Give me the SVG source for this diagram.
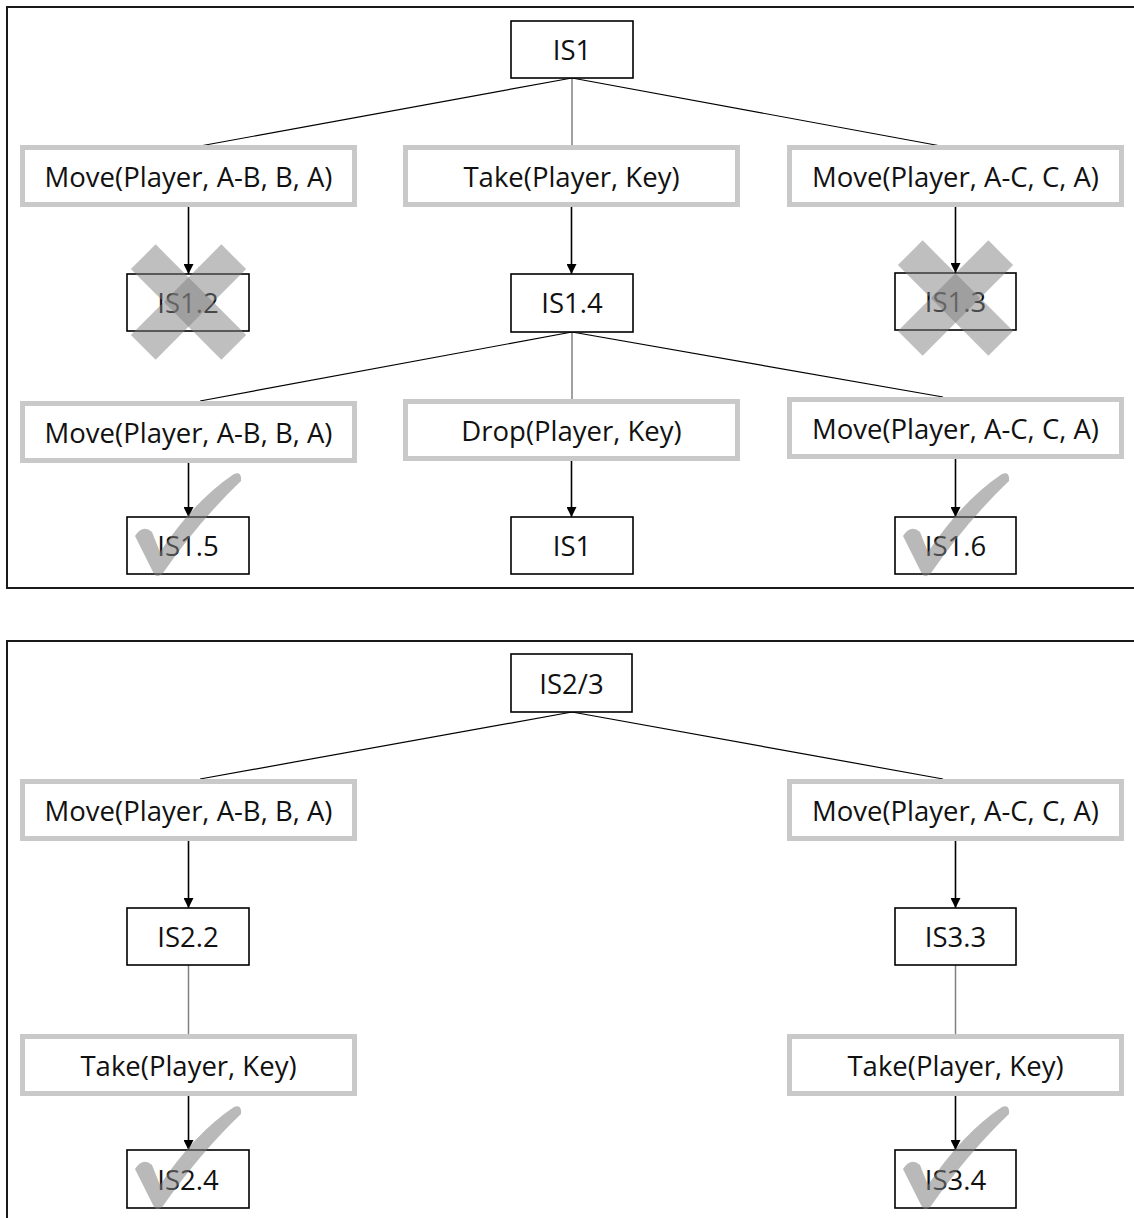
<svg xmlns="http://www.w3.org/2000/svg" width="1134" height="1218" viewBox="0 0 1134 1218">
  <style>
    .panel { fill: #ffffff; stroke: #1a1a1a; stroke-width: 2; }
    .state { fill: #ffffff; stroke: #000000; stroke-width: 1.6; }
    .action { fill: #ffffff; stroke: #c9c9c9; stroke-width: 5; }
    .label { font-family: "Open Sans", "Liberation Sans", Arial, sans-serif; font-size: 27.5px; fill: #111111; text-anchor: middle; }
    .fan { stroke: #000000; stroke-width: 1.2; fill: none; }
    .stem { stroke: #808080; stroke-width: 1.5; fill: none; }
    .arrow { stroke: #000000; stroke-width: 1.6; fill: none; marker-end: url(#head); }
    .cross { fill: #808080; fill-opacity: 0.5; }
    .tick { fill: #808080; fill-opacity: 0.55; }
  </style>
  <defs>
    <marker id="head" markerUnits="userSpaceOnUse" markerWidth="10" markerHeight="10" refX="10" refY="5" orient="auto">
      <path d="M0,0 L10,5 L0,10 Z" fill="#000000"/>
    </marker>
    <!-- rejected-state cross, centred on the origin -->
    <g id="cross-mark">
      <rect x="-64" y="-17.5" width="128" height="35" transform="rotate(45)"/>
      <rect x="-64" y="-17.5" width="128" height="35" transform="rotate(-45)"/>
    </g>
    <!-- accepted-state tick, origin at the top-left corner of the state box -->
    <path id="tick-mark" d="M 8,19 Q 16,7 25,15 L 33,35 Q 68,-17 107,-43 Q 115,-46 114,-36 Q 73,3 36,56 Q 30,63 26,55 Z"/>
  </defs>

  <!-- panels -->
  <rect class="panel" x="7" y="7" width="1140" height="581"/>
  <rect class="panel" x="7" y="641" width="1140" height="600"/>

  <!-- connectors -->
  <g id="connectors">
    <line class="fan" x1="572" y1="78" x2="200" y2="146"/>
    <line class="stem" x1="572" y1="78" x2="572" y2="145"/>
    <line class="fan" x1="572" y1="78" x2="941" y2="146"/>
    <line class="arrow" x1="188.5" y1="207" x2="188.5" y2="274"/>
    <line class="arrow" x1="571.5" y1="207" x2="571.5" y2="274"/>
    <line class="arrow" x1="955.5" y1="207" x2="955.5" y2="273"/>

    <line class="fan" x1="572" y1="332" x2="200" y2="401"/>
    <line class="stem" x1="572" y1="332" x2="572" y2="399"/>
    <line class="fan" x1="572" y1="332" x2="943" y2="397"/>
    <line class="arrow" x1="188.5" y1="463" x2="188.5" y2="517"/>
    <line class="arrow" x1="571.5" y1="461" x2="571.5" y2="517"/>
    <line class="arrow" x1="955.5" y1="459" x2="955.5" y2="517"/>

    <line class="fan" x1="572" y1="712" x2="200" y2="779"/>
    <line class="fan" x1="572" y1="712" x2="943" y2="779"/>
    <line class="arrow" x1="188.5" y1="841" x2="188.5" y2="908"/>
    <line class="arrow" x1="955.5" y1="841" x2="955.5" y2="908"/>
    <line class="stem" x1="188.5" y1="965" x2="188.5" y2="1034"/>
    <line class="stem" x1="955.5" y1="965" x2="955.5" y2="1034"/>
    <line class="arrow" x1="188.5" y1="1096" x2="188.5" y2="1150"/>
    <line class="arrow" x1="955.5" y1="1096" x2="955.5" y2="1150"/>
  </g>

  <!-- upper tree -->
  <g id="is1-root">
    <rect class="state" x="511" y="21" width="122" height="57"/>
    <text class="label" x="572" y="59.5">IS1</text>
  </g>
  <g id="move-ab-1">
    <rect class="action" x="22.5" y="147.5" width="332" height="57"/>
    <text class="label" x="188.5" y="186.5">Move(Player, A-B, B, A)</text>
  </g>
  <g id="take-1">
    <rect class="action" x="405.5" y="147.5" width="332" height="57"/>
    <text class="label" x="571.5" y="186.5">Take(Player, Key)</text>
  </g>
  <g id="move-ac-1">
    <rect class="action" x="789.5" y="147.5" width="332" height="57"/>
    <text class="label" x="955.5" y="186.5">Move(Player, A-C, C, A)</text>
  </g>
  <g id="is1-2">
    <rect class="state" x="127" y="274" width="122" height="57"/>
    <text class="label" x="188" y="312.5">IS1.2</text>
    <use href="#cross-mark" class="cross" x="188.5" y="302"/>
  </g>
  <g id="is1-4">
    <rect class="state" x="511" y="274" width="122" height="58"/>
    <text class="label" x="572" y="313">IS1.4</text>
  </g>
  <g id="is1-3">
    <rect class="state" x="895" y="273" width="121" height="57"/>
    <text class="label" x="955.5" y="311.5">IS1.3</text>
    <use href="#cross-mark" class="cross" x="955.5" y="298"/>
  </g>
  <g id="move-ab-2">
    <rect class="action" x="22.5" y="403.5" width="332" height="57"/>
    <text class="label" x="188.5" y="442.5">Move(Player, A-B, B, A)</text>
  </g>
  <g id="drop-1">
    <rect class="action" x="405.5" y="401.5" width="332" height="57"/>
    <text class="label" x="571.5" y="441">Drop(Player, Key)</text>
  </g>
  <g id="move-ac-2">
    <rect class="action" x="789.5" y="399.5" width="332" height="57"/>
    <text class="label" x="955.5" y="438.5">Move(Player, A-C, C, A)</text>
  </g>
  <g id="is1-5">
    <rect class="state" x="127" y="517" width="122" height="57"/>
    <text class="label" x="188" y="555.5">IS1.5</text>
    <use href="#tick-mark" class="tick" x="127" y="517"/>
  </g>
  <g id="is1-back">
    <rect class="state" x="511" y="517" width="122" height="57"/>
    <text class="label" x="572" y="555.5">IS1</text>
  </g>
  <g id="is1-6">
    <rect class="state" x="895" y="517" width="121" height="57"/>
    <text class="label" x="955.5" y="555.5">IS1.6</text>
    <use href="#tick-mark" class="tick" x="895" y="517"/>
  </g>

  <!-- lower tree -->
  <g id="is2-3">
    <rect class="state" x="511" y="654" width="121" height="58"/>
    <text class="label" x="571.5" y="693.5">IS2/3</text>
  </g>
  <g id="move-ab-3">
    <rect class="action" x="22.5" y="781.5" width="332" height="57"/>
    <text class="label" x="188.5" y="820.5">Move(Player, A-B, B, A)</text>
  </g>
  <g id="move-ac-3">
    <rect class="action" x="789.5" y="781.5" width="332" height="57"/>
    <text class="label" x="955.5" y="820.5">Move(Player, A-C, C, A)</text>
  </g>
  <g id="is2-2">
    <rect class="state" x="127" y="908" width="122" height="57"/>
    <text class="label" x="188" y="946.5">IS2.2</text>
  </g>
  <g id="is3-3">
    <rect class="state" x="895" y="908" width="121" height="57"/>
    <text class="label" x="955.5" y="946.5">IS3.3</text>
  </g>
  <g id="take-2">
    <rect class="action" x="22.5" y="1036.5" width="332" height="57"/>
    <text class="label" x="188.5" y="1075.5">Take(Player, Key)</text>
  </g>
  <g id="take-3">
    <rect class="action" x="789.5" y="1036.5" width="332" height="57"/>
    <text class="label" x="955.5" y="1075.5">Take(Player, Key)</text>
  </g>
  <g id="is2-4">
    <rect class="state" x="127" y="1150" width="122" height="58"/>
    <text class="label" x="188" y="1189.5">IS2.4</text>
    <use href="#tick-mark" class="tick" x="127" y="1150"/>
  </g>
  <g id="is3-4">
    <rect class="state" x="895" y="1150" width="121" height="58"/>
    <text class="label" x="955.5" y="1189.5">IS3.4</text>
    <use href="#tick-mark" class="tick" x="895" y="1150"/>
  </g>
</svg>
